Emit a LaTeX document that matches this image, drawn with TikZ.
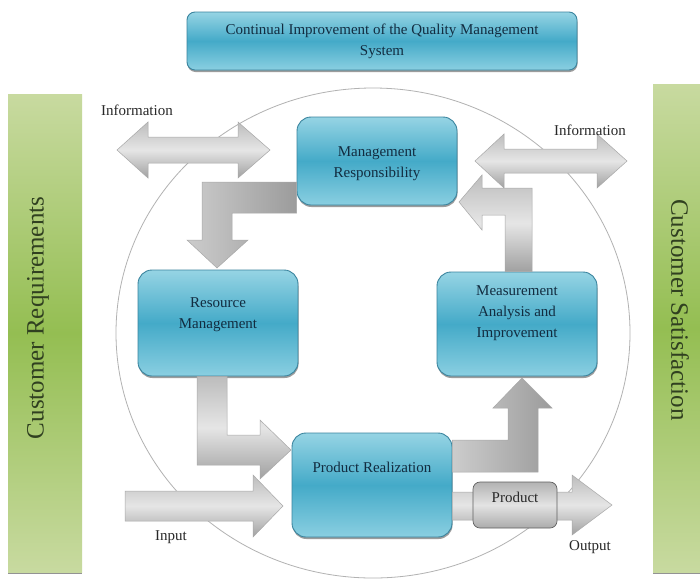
\documentclass[tikz,border=0pt]{standalone}
\usepackage{fontspec}
\setmainfont{Liberation Serif}
\usetikzlibrary{shadows}

\definecolor{boxtop}{RGB}{150,212,228}
\definecolor{boxmid}{RGB}{68,170,200}
\definecolor{boxbot}{RGB}{138,207,225}
\definecolor{boxedge}{RGB}{58,132,158}
\definecolor{boxtext}{RGB}{18,44,64}
\definecolor{barlight}{RGB}{200,218,160}
\definecolor{bardark}{RGB}{148,190,82}
\definecolor{bartext}{RGB}{48,64,32}
\definecolor{labeltext}{RGB}{40,40,40}

\begin{document}
\begin{tikzpicture}[x=1pt,y=-1pt,
  qbox/.style={draw=boxedge, line width=0.9pt, rounded corners=14pt,
    top color=boxtop, bottom color=boxbot, middle color=boxmid,
    drop shadow={shadow xshift=0.5pt, shadow yshift=-2pt, fill=black!70, opacity=0.55},
    minimum width=160pt, inner sep=0pt},
  qtext/.style={text=boxtext, font=\fontsize{15}{21}\selectfont, align=center},
  sidebar/.style={top color=barlight, bottom color=barlight, middle color=bardark,
    drop shadow={shadow xshift=0pt, shadow yshift=-2pt, fill=black!70, opacity=0.6}},
  sidetext/.style={text=bartext, font=\fontsize{25}{30}\selectfont},
  garrow/.style={draw=gray!68, line width=0.5pt, top color=gray!52,
    bottom color=gray!74, middle color=gray!20},
  garrowdark/.style={draw=gray!68, line width=0.5pt, left color=gray!40,
    right color=gray!78},
  flowlabel/.style={text=labeltext, font=\fontsize{15}{18}\selectfont}
]
\useasboundingbox (0,0) rectangle (700,582);
\fill[white] (0,0) rectangle (700,582);

% cycle ring
\draw[gray!60, line width=0.8pt] (373,333) ellipse [x radius=257, y radius=245];

% side bars
\fill[sidebar] (8,94) rectangle (82,572);
\node[sidetext, rotate=90] (req) at (38,318) {Customer Requirements};
\fill[sidebar] (653,84) rectangle (706,572);
\node[sidetext, rotate=-90] (sat) at (680,310) {Customer Satisfaction};

% title box
\node[qbox, rounded corners=8pt, minimum width=390pt, minimum height=58pt]
  (ci) at (382,41) {};
\node[qtext] (ci-t) at (382,41)
  {Continual Improvement of the Quality Management\\System};

% process boxes
\node[qbox, minimum height=88pt] (mr) at (377,161) {};
\node[qtext] (mr-t) at (377,164) {Management\\Responsibility};

\node[qbox, minimum height=106pt] (rm) at (218,323) {};
\node[qtext] (rm-t) at (218,315) {Resource\\Management};

\node[qbox, minimum height=104pt] (mai) at (517,324) {};
\node[qtext] (mai-t) at (517,313) {Measurement\\Analysis and\\Improvement};

\node[qbox, minimum height=104pt] (pr) at (372,485) {};
\node[qtext] (pr-t) at (372,467) {Product Realization};

% information exchange arrows
\path[garrow] (117,150) -- (148,122) -- (148,137) -- (238,137) -- (238,122)
  -- (270,150) -- (238,178) -- (238,163) -- (148,163) -- (148,178) -- cycle;
\node[flowlabel] (info-l) at (137,110) {Information};

\path[garrow] (475,161) -- (504,134) -- (504,149) -- (597,149) -- (597,134)
  -- (627,161) -- (597,188) -- (597,173) -- (504,173) -- (504,188) -- cycle;
\node[flowlabel] (info-r) at (590,130) {Information};

% management responsibility -> resource management
\path[garrowdark] (mr.west |- 0,182) -- (202,182) -- (202,240) -- (187,240)
  -- (217,268) -- (248,240) -- (232,240) -- (232,213) -- (mr.west |- 0,213) -- cycle;

% resource management -> product realization
\path[garrow] (197,0 |- rm.south) -- (197,465) -- (260,465) -- (260,479) -- (291,450)
  -- (260,420) -- (260,435) -- (227,435) -- (227,0 |- rm.south) -- cycle;

% input
\path[garrow] (125,491) -- (253,491) -- (253,475) -- (283,506) -- (253,537)
  -- (253,521) -- (125,521) -- cycle;
\node[flowlabel] (in-l) at (171,537) {Input};

% product realization -> measurement, analysis and improvement
\path[garrowdark] (pr.east |- 0,440) -- (508,440) -- (508,408) -- (493,408) -- (522,378)
  -- (552,408) -- (538,408) -- (538,472) -- (pr.east |- 0,472) -- cycle;

% measurement, analysis and improvement -> management responsibility
\path[garrow] (505,0 |- mai.north) -- (505,215) -- (482,215) -- (482,230) -- (459,202)
  -- (482,175) -- (482,188) -- (532,188) -- (532,0 |- mai.north) -- cycle;

% output with product
\path[garrow] (pr.east |- 0,492) -- (572,492) -- (572,475) -- (612,505) -- (572,535)
  -- (572,520) -- (pr.east |- 0,520) -- cycle;
\node[draw=gray!75!black, line width=0.7pt, rounded corners=7pt,
  top color=gray!60, bottom color=gray!66, middle color=gray!22,
  minimum width=84pt, minimum height=46pt] (prod) at (515,505) {};
\node[text=labeltext, font=\fontsize{15}{18}\selectfont] (prod-t) at (515,497) {Product};
\node[flowlabel] (out-l) at (590,547) {Output};
\end{tikzpicture}
\end{document}
